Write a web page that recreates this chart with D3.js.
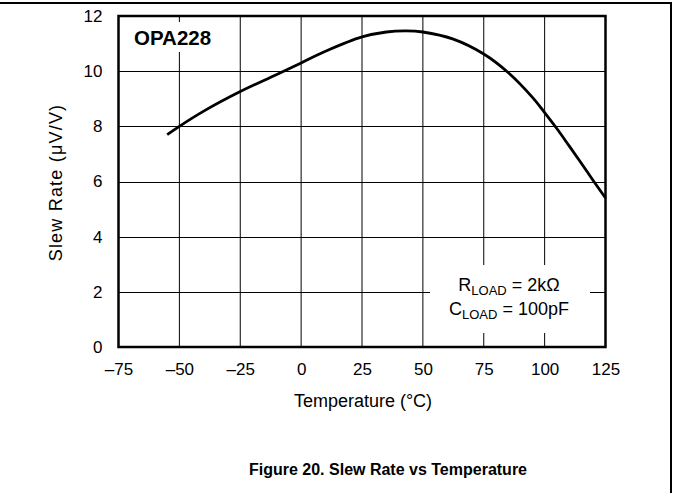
<!DOCTYPE html>
<html><head><meta charset="utf-8">
<script src="https://cdn.jsdelivr.net/npm/d3@7"></script>
<style>body{margin:0;background:#fff}svg{display:block;font-family:"Liberation Sans",Arial,sans-serif}</style>
</head><body><svg id="c" width="673" height="493"></svg>
<script>
const temps = [-55,-50,-40,-25,-10,0,10,25,35,43,50,62.5,75,85,95,100,105,110,115,120,125];
const slew  = [7.7,8.0,8.55,9.26,9.88,10.3,10.72,11.24,11.42,11.46,11.42,11.16,10.62,9.95,9.05,8.5,7.92,7.3,6.67,6.03,5.4];
const xTicks = [-75,-50,-25,0,25,50,75,100,125];
const yTicks = [0,2,4,6,8,10,12];
const xLabel = "Temperature (\u00B0C)";
const yLabel = "Slew Rate (\u03BCV/V)";
const title = "Figure 20. Slew Rate vs Temperature";
const device = "OPA228";

const svg = d3.select("#c");
const L=118.5,R=605.5,T=16,B=347;
const x = d3.scaleLinear().domain([-75,125]).range([L,R]);
const y = d3.scaleLinear().domain([0,12]).range([B,T]);
const fmt = v => v<0 ? "\u2013"+Math.abs(v) : String(v);

// outer frame
svg.append("line").attr("x1",0).attr("x2",672).attr("y1",3).attr("y2",3).attr("stroke","#000").attr("stroke-width",2);
svg.append("line").attr("x1",671).attr("x2",671).attr("y1",2).attr("y2",493).attr("stroke","#000").attr("stroke-width",2);

// grid
const g = svg.append("g");
g.selectAll("line.v").data(xTicks.slice(1,-1)).join("line")
  .attr("x1",d=>x(d)).attr("x2",d=>x(d)).attr("y1",T).attr("y2",B)
  .attr("stroke","#000").attr("stroke-width",1);
g.selectAll("line.h").data(yTicks.slice(1,-1)).join("line")
  .attr("y1",d=>Math.round(y(d))+0.5).attr("y2",d=>Math.round(y(d))+0.5).attr("x1",L).attr("x2",R)
  .attr("stroke","#000").attr("stroke-width",1);

// axes (labels only)
const xa = svg.append("g").attr("transform",`translate(0,${B})`)
  .call(d3.axisBottom(x).tickValues(xTicks).tickFormat(fmt).tickSize(0).tickPadding(16));
const ya = svg.append("g").attr("transform",`translate(${L},0)`)
  .call(d3.axisLeft(y).tickValues(yTicks).tickFormat(fmt).tickSize(0).tickPadding(16));
[xa,ya].forEach(a=>{a.select(".domain").remove();a.selectAll("text").attr("font-size",17).attr("font-family","Liberation Sans, Arial, sans-serif").attr("fill","#000");});

// white boxes for annotations
svg.append("rect").attr("x",128).attr("y",22).attr("width",94).attr("height",30).attr("fill","#fff");
svg.append("rect").attr("x",430).attr("y",265).attr("width",160).attr("height",68).attr("fill","#fff");

// curve
const line = d3.line().x((d,i)=>x(temps[i])).y(d=>y(d)).curve(d3.curveCatmullRom);
svg.append("path").attr("d",line(slew)).attr("fill","none").attr("stroke","#000").attr("stroke-width",2.8);

// plot frame
svg.append("rect").attr("x",L).attr("y",T).attr("width",R-L).attr("height",B-T)
  .attr("fill","none").attr("stroke","#000").attr("stroke-width",2.5);

// texts
svg.append("text").attr("x",134).attr("y",45).attr("font-size",20.5).attr("font-weight","bold").text(device);
const ann = svg.append("text").attr("x",509).attr("y",291).attr("text-anchor","middle").attr("font-size",18);
ann.append("tspan").text("R");
ann.append("tspan").attr("font-size",13).attr("dy",4).text("LOAD");
ann.append("tspan").attr("dy",-4).text(" = 2k\u03A9");
const ann2 = svg.append("text").attr("x",509).attr("y",315).attr("text-anchor","middle").attr("font-size",18);
ann2.append("tspan").text("C");
ann2.append("tspan").attr("font-size",13).attr("dy",4).text("LOAD");
ann2.append("tspan").attr("dy",-4).text(" = 100pF");

svg.append("text").attr("x",(L+R)/2+1).attr("y",407).attr("text-anchor","middle").attr("font-size",18).text(xLabel);
svg.append("text").attr("transform",`translate(62,${(T+B)/2+1}) rotate(-90)`).attr("text-anchor","middle").attr("font-size",18).attr("letter-spacing",1.2).text(yLabel);
svg.append("text").attr("x",388).attr("y",475).attr("text-anchor","middle").attr("font-size",16).attr("font-weight","bold").text(title);
</script></body></html>
